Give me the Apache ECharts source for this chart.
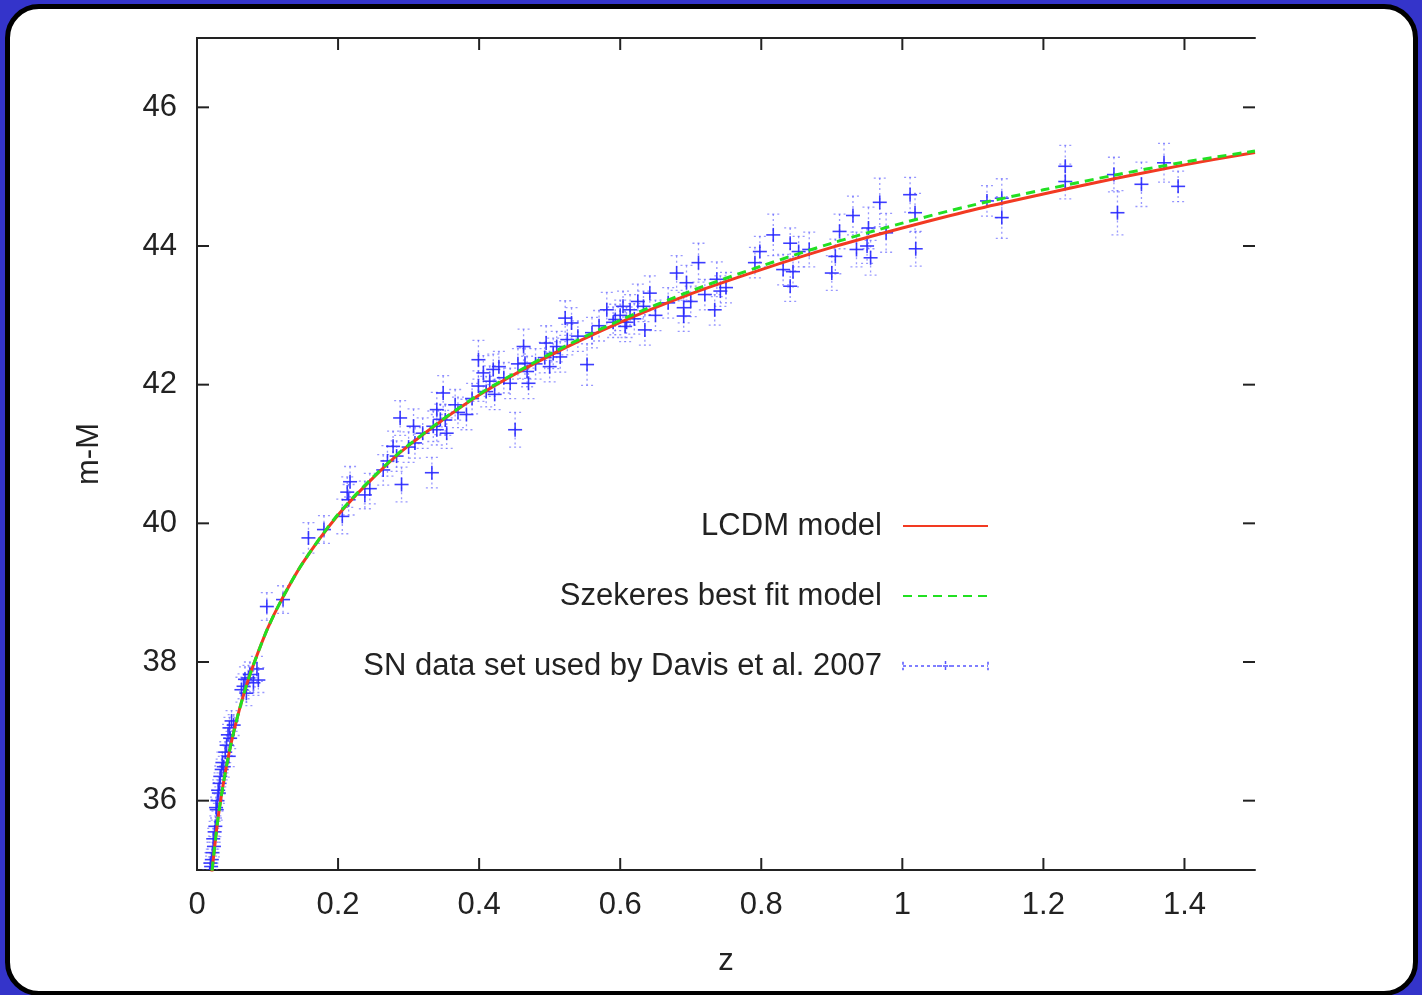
<!DOCTYPE html>
<html>
<head>
<meta charset="utf-8">
<script src="https://cdn.jsdelivr.net/npm/echarts@6/dist/echarts.min.js"></script>
<style>
html,body{margin:0;padding:0;width:1422px;height:995px;overflow:hidden;background:#3434ca;}
#frame{position:absolute;left:5px;top:4px;width:1403px;height:982px;background:#fff;border:5px solid #000;border-radius:34px;}
#chart{position:absolute;left:0;top:0;width:1422px;height:995px;}
</style>
</head>
<body>
<div id="frame"></div>
<div id="chart"></div>
<script>
// Model curves (redshift, distance modulus)
const modelZ = [0.012,0.018,0.02,0.03,0.04,0.05,0.06,0.07,0.08,0.1,0.12,0.15,0.2,0.25,0.3,0.4,0.5,0.6,0.7,0.8,0.9,1.0,1.1,1.2,1.3,1.4,1.5];
const lcdm   = [33.70,34.63,34.86,35.76,36.40,36.90,37.31,37.66,37.96,38.48,38.90,39.43,40.12,40.66,41.12,41.85,42.42,42.90,43.31,43.66,43.98,44.26,44.52,44.75,44.97,45.17,45.35];
const szek   = [33.70,34.63,34.86,35.76,36.40,36.90,37.31,37.66,37.96,38.48,38.90,39.43,40.13,40.67,41.13,41.86,42.44,42.93,43.35,43.71,44.04,44.33,44.59,44.81,45.02,45.21,45.37];

// SN data: redshift, distance modulus, error
const snZ = [
0.016,0.018,0.019,0.020,0.021,0.022,0.023,0.024,0.025,0.026,0.027,0.028,0.029,0.030,0.031,0.032,0.033,0.035,0.036,0.038,0.040,0.042,0.044,0.045,0.046,0.047,0.049,0.052,0.063,0.066,0.068,0.070,0.073,0.075,0.080,0.085,0.087,
0.099,0.122,0.158,0.180,0.206,0.213,0.215,0.217,0.238,0.245,0.264,0.270,0.278,0.283,0.288,0.290,0.300,0.307,0.309,0.320,0.333,0.335,0.340,0.340,0.345,0.349,0.352,0.354,0.366,0.370,0.382,0.390,
0.399,0.399,0.406,0.410,0.415,0.420,0.422,0.428,0.435,0.444,0.451,0.455,0.463,0.465,0.468,0.470,0.480,0.493,0.495,0.500,0.505,0.510,0.515,0.522,0.525,0.531,0.540,0.553,0.560,0.570,0.581,0.590,0.593,0.600,0.604,0.607,0.609,
0.614,0.620,0.625,0.633,0.635,0.642,0.650,0.668,0.680,0.690,0.690,0.694,0.700,0.711,0.720,0.734,0.737,0.742,0.750,0.791,0.798,0.817,0.831,0.841,0.841,0.845,0.853,0.868,0.900,0.905,0.911,0.930,0.935,0.950,0.952,0.955,0.968,0.977,
1.011,1.018,1.019,1.120,1.141,1.141,1.231,1.231,1.300,1.305,1.339,1.371,1.391];
const snMu = [
34.85,34.95,35.10,35.05,35.15,35.25,35.45,35.34,35.55,35.63,35.90,35.87,36.00,36.15,36.11,36.25,36.35,36.45,36.55,36.49,36.70,36.80,36.95,36.64,37.05,36.90,37.15,37.09,37.60,37.65,37.75,37.55,37.77,37.82,37.70,37.90,37.74,
38.80,38.90,39.79,39.91,40.10,40.45,40.34,40.60,40.41,40.50,40.77,40.90,41.11,40.97,41.52,40.56,41.10,41.40,41.16,41.30,40.73,41.40,41.64,41.35,41.50,41.88,41.49,41.30,41.71,41.60,41.57,41.80,
42.36,41.98,42.17,41.90,42.05,42.22,41.86,42.26,42.10,42.02,41.35,42.30,42.55,42.31,42.19,42.02,42.30,42.39,42.60,42.26,42.45,42.55,42.40,42.96,42.65,42.89,42.70,42.29,42.75,42.85,43.08,42.90,42.94,43.00,43.13,42.84,42.90,
43.08,42.95,43.20,43.13,42.79,43.32,43.00,43.18,43.61,43.11,42.99,43.47,43.20,43.76,43.30,43.08,43.52,43.35,43.40,43.76,43.92,44.16,43.66,44.04,43.42,43.63,43.92,43.95,43.61,43.85,44.21,44.44,43.95,44.00,44.26,43.83,44.63,44.19,
44.74,44.48,43.96,44.65,44.69,44.41,45.15,44.93,45.03,44.48,44.89,45.20,44.86];
const snErr = [
0.15,0.15,0.15,0.15,0.15,0.15,0.15,0.15,0.15,0.15,0.15,0.15,0.15,0.15,0.15,0.15,0.15,0.15,0.15,0.15,0.15,0.15,0.15,0.15,0.15,0.15,0.15,0.15,0.18,0.18,0.18,0.18,0.18,0.18,0.18,0.18,0.18,
0.20,0.20,0.22,0.20,0.25,0.22,0.22,0.22,0.20,0.22,0.22,0.22,0.22,0.22,0.25,0.25,0.22,0.25,0.22,0.22,0.22,0.22,0.25,0.22,0.22,0.25,0.22,0.22,0.22,0.22,0.22,0.22,
0.28,0.22,0.25,0.22,0.22,0.22,0.22,0.22,0.22,0.22,0.25,0.22,0.25,0.22,0.22,0.22,0.22,0.22,0.25,0.22,0.22,0.22,0.22,0.25,0.22,0.22,0.22,0.30,0.22,0.22,0.25,0.22,0.22,0.22,0.22,0.22,0.22,
0.22,0.22,0.25,0.22,0.22,0.25,0.22,0.22,0.25,0.22,0.22,0.25,0.22,0.28,0.22,0.22,0.25,0.22,0.22,0.22,0.22,0.30,0.22,0.22,0.22,0.22,0.22,0.25,0.25,0.25,0.25,0.28,0.25,0.25,0.30,0.25,0.35,0.28,
0.25,0.28,0.25,0.22,0.28,0.30,0.30,0.25,0.25,0.32,0.32,0.28,0.22];

const xTicks = [0,0.2,0.4,0.6,0.8,1,1.2,1.4];
const yTicks = [36,38,40,42,44,46];
const X_MIN = 0, X_MAX = 1.5, Y_MIN = 35, Y_MAX = 47;

const lcdmData = modelZ.map((z,i)=>[z,lcdm[i]]);
const szekData = modelZ.map((z,i)=>[z,szek[i]]);
const snData = snZ.map((z,i)=>[z,snMu[i],snErr[i]]);

const FONT = 'Liberation Sans, Arial, sans-serif';
const axisLine = {show:true, lineStyle:{color:'#222', width:2}};
const TICK_LEN = 12;
const tickLineStyle = {stroke:'#222', lineWidth:2};

// inward ticks on all four sides, placed through the axis scales
function renderXTick(params, api){
  const v = api.value(0);
  const b = api.coord([v, Y_MIN]), t = api.coord([v, Y_MAX]);
  return {type:'group', children:[
    {type:'line', shape:{x1:b[0],y1:b[1],x2:b[0],y2:b[1]-TICK_LEN}, style:tickLineStyle},
    {type:'line', shape:{x1:t[0],y1:t[1],x2:t[0],y2:t[1]+TICK_LEN}, style:tickLineStyle}
  ]};
}
function renderYTick(params, api){
  const v = api.value(1);
  const l = api.coord([X_MIN, v]), r = api.coord([X_MAX, v]);
  return {type:'group', children:[
    {type:'line', shape:{x1:l[0],y1:l[1],x2:l[0]+TICK_LEN,y2:l[1]}, style:tickLineStyle},
    {type:'line', shape:{x1:r[0],y1:r[1],x2:r[0]-TICK_LEN,y2:r[1]}, style:tickLineStyle}
  ]};
}

function renderSN(params, api){
  const x = api.value(0), y = api.value(1), e = api.value(2);
  const c = api.coord([x,y]);
  const t = api.coord([x,y+e]);
  const b = api.coord([x,y-e]);
  const cap = 6, arm = 7;
  const eb = {stroke:'rgba(70,70,255,0.55)', lineWidth:1.3, lineDash:[2,3]};
  const cr = {stroke:'rgba(40,40,255,0.9)', lineWidth:1.6};
  return {type:'group', children:[
    {type:'line', shape:{x1:c[0],y1:t[1],x2:c[0],y2:b[1]}, style:eb},
    {type:'line', shape:{x1:c[0]-cap,y1:t[1],x2:c[0]+cap,y2:t[1]}, style:eb},
    {type:'line', shape:{x1:c[0]-cap,y1:b[1],x2:c[0]+cap,y2:b[1]}, style:eb},
    {type:'line', shape:{x1:c[0]-arm,y1:c[1],x2:c[0]+arm,y2:c[1]}, style:cr},
    {type:'line', shape:{x1:c[0],y1:c[1]-arm,x2:c[0],y2:c[1]+arm}, style:cr}
  ]};
}

const chart = echarts.init(document.getElementById('chart'), null, {renderer:'canvas'});
chart.setOption({
  backgroundColor:'transparent',
  animation:false,
  textStyle:{fontFamily:FONT},
  grid:{left:197, right:167, top:38, bottom:125, show:false},
  xAxis:[{
    type:'value', min:X_MIN, max:X_MAX, position:'bottom',
    name:'z', nameLocation:'middle', nameGap:76,
    nameTextStyle:{fontSize:31, color:'#222', fontFamily:FONT},
    axisLine:axisLine,
    axisTick:{show:false},
    axisLabel:{customValues:xTicks, fontSize:31, color:'#222', margin:20, fontFamily:FONT},
    splitLine:{show:false}
  },{
    type:'value', min:X_MIN, max:X_MAX, position:'top',
    axisLine:axisLine, axisTick:{show:false},
    axisLabel:{show:false}, splitLine:{show:false}
  }],
  yAxis:[{
    type:'value', min:Y_MIN, max:Y_MAX, position:'left',
    name:'m-M', nameLocation:'middle', nameGap:92, nameRotate:90,
    nameTextStyle:{fontSize:31, color:'#222', fontFamily:FONT},
    axisLine:axisLine,
    axisTick:{show:false},
    axisLabel:{customValues:yTicks, fontSize:31, color:'#222', margin:20, fontFamily:FONT},
    splitLine:{show:false}
  },{
    type:'value', min:Y_MIN, max:Y_MAX, position:'right',
    axisLine:axisLine, axisTick:{show:false},
    axisLabel:{show:false}, splitLine:{show:false}
  }],
  legend:{
    orient:'vertical', right:428, top:503, align:'right',
    itemWidth:85, itemHeight:14, itemGap:34,
    textStyle:{fontSize:31, color:'#222', lineHeight:36, padding:[0,16,0,0], fontFamily:FONT},
    selectedMode:false,
    data:[
      {name:'LCDM model', itemStyle:{opacity:0}},
      {name:'Szekeres best fit model', itemStyle:{opacity:0}},
      {name:'SN data set used by Davis et al. 2007',
       icon:'path://M0,7L100,7M50,1L50,13M40,7L60,7M0,2L0,12M100,2L100,12',
       itemStyle:{color:'transparent', borderColor:'#5555ff', borderWidth:1.5, borderType:[3,3]}}
    ]
  },
  series:[
    {name:'xticks', type:'custom', renderItem:renderXTick, data:xTicks.map(v=>[v, Y_MIN]), clip:false, z:6, silent:true},
    {name:'yticks', type:'custom', renderItem:renderYTick, data:yTicks.map(v=>[X_MIN, v]), clip:false, z:6, silent:true},
    {name:'SN data set used by Davis et al. 2007', type:'custom', renderItem:renderSN, data:snData, clip:true, z:1, color:'#4444ff'},
    {name:'LCDM model', type:'line', data:lcdmData, smooth:0.3, showSymbol:false, symbol:'none', clip:true, z:3,
     color:'#f23a22', lineStyle:{color:'#f23a22', width:3}},
    {name:'Szekeres best fit model', type:'line', data:szekData, smooth:0.3, showSymbol:false, symbol:'none', clip:true, z:4,
     color:'#22e022', lineStyle:{color:'#22e022', width:3, type:[9,6]}}
  ]
});
</script>
</body>
</html>
